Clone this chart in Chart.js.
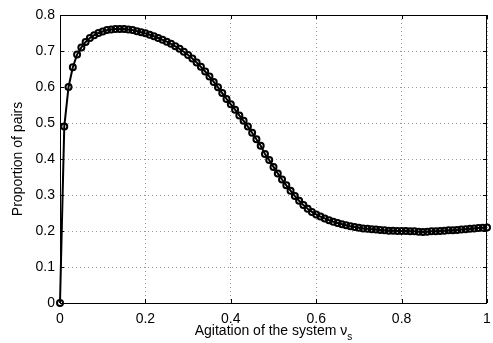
<!DOCTYPE html>
<html>
<head>
<meta charset="utf-8">
<script src="https://cdn.jsdelivr.net/npm/chart.js@4/dist/chart.umd.min.js"></script>
<style>
  html, body { margin: 0; padding: 0; background: #fff; }
  #wrap { width: 493px; height: 343px; }
</style>
</head>
<body>
<div id="wrap"><canvas id="pairsChart"></canvas></div>
<script>
// agitation values, step 0.01 from 0 to 1
const agitation = [];
for (let i = 0; i <= 100; i++) agitation.push(i / 100);

// proportion of pairs
const proportion = [
    0.000, 0.490, 0.600, 0.655, 0.690, 0.710, 0.725, 0.736, 0.744, 0.750,
    0.754, 0.758, 0.760, 0.761, 0.761, 0.761, 0.760, 0.758, 0.755, 0.752,
    0.749, 0.745, 0.741, 0.736, 0.731, 0.726, 0.720, 0.713, 0.706, 0.698,
    0.689, 0.679, 0.668, 0.656, 0.643, 0.629, 0.614, 0.599, 0.583, 0.567,
    0.552, 0.537, 0.521, 0.506, 0.490, 0.473, 0.455, 0.437, 0.414, 0.397,
    0.378, 0.360, 0.343, 0.327, 0.312, 0.297, 0.284, 0.272, 0.262, 0.253,
    0.246, 0.240, 0.235, 0.230, 0.226, 0.222, 0.219, 0.216, 0.213, 0.211,
    0.209, 0.207, 0.206, 0.205, 0.204, 0.203, 0.202, 0.201, 0.201, 0.200,
    0.200, 0.200, 0.199, 0.199, 0.198, 0.197, 0.198, 0.199, 0.199, 0.200,
    0.201, 0.202, 0.202, 0.203, 0.204, 0.205, 0.206, 0.207, 0.208, 0.209,
    0.210
];

const xTicks = [0, 0.2, 0.4, 0.6, 0.8, 1];
const yTicks = [0, 0.1, 0.2, 0.3, 0.4, 0.5, 0.6, 0.7, 0.8];

const FONT = '"Liberation Sans", Arial, sans-serif';

// box, inward ticks and axis titles drawn like the matlab figure
const frame = {
    id: 'frame',
    afterDraw(chart) {
        const { ctx, chartArea: a, scales } = chart;
        ctx.save();
        ctx.strokeStyle = '#000';
        ctx.lineWidth = 1;
        ctx.strokeRect(a.left + 0.5, a.top + 0.5, a.right - a.left - 1, a.bottom - a.top);
        ctx.beginPath();
        xTicks.forEach(v => {
            const x = Math.round(scales.x.getPixelForValue(v)) + 0.5;
            ctx.moveTo(x, a.bottom); ctx.lineTo(x, a.bottom - 4);
            ctx.moveTo(x, a.top); ctx.lineTo(x, a.top + 4);
        });
        yTicks.forEach(v => {
            const y = Math.round(scales.y.getPixelForValue(v)) + 0.5;
            ctx.moveTo(a.left, y); ctx.lineTo(a.left + 4, y);
            ctx.moveTo(a.right, y); ctx.lineTo(a.right - 4, y);
        });
        ctx.stroke();

        ctx.fillStyle = '#000';
        ctx.font = '14px ' + FONT;
        ctx.textBaseline = 'middle';
        const main = 'Agitation of the system ν';
        const wMain = ctx.measureText(main).width;
        ctx.font = '10px ' + FONT;
        const wSub = ctx.measureText('s').width;
        const cx = (a.left + a.right) / 2;
        const x0 = cx - (wMain + wSub) / 2;
        ctx.font = '14px ' + FONT;
        ctx.textAlign = 'left';
        ctx.fillText(main, x0, 331);
        ctx.font = '10px ' + FONT;
        ctx.fillText('s', x0 + wMain, 337);

        ctx.translate(18, (a.top + a.bottom) / 2);
        ctx.rotate(-Math.PI / 2);
        ctx.font = '14px ' + FONT;
        ctx.textAlign = 'center';
        ctx.fillText('Proportion of pairs', 0, 0);
        ctx.restore();
    }
};

new Chart(document.getElementById('pairsChart'), {
    type: 'scatter',
    data: {
        datasets: [{
            data: agitation.map((x, i) => ({ x: x, y: proportion[i] })),
            showLine: true,
            borderColor: '#000',
            borderWidth: 2,
            pointRadius: 3,
            pointBorderWidth: 2,
            pointBorderColor: '#000',
            pointBackgroundColor: 'rgba(255,255,255,0)',
            tension: 0,
            clip: false
        }]
    },
    options: {
        responsive: true,
        maintainAspectRatio: false,
        animation: false,
        events: [],
        layout: { padding: { top: 15, right: 2, left: 0, bottom: 0 } },
        plugins: { legend: { display: false }, tooltip: { enabled: false } },
        scales: {
            x: {
                type: 'linear', min: 0, max: 1,
                afterBuildTicks: s => { s.ticks = xTicks.map(v => ({ value: v })); },
                afterFit: s => { s.height = 40; s.paddingLeft = 0; s.paddingRight = 0; },
                grid: { color: '#999', drawTicks: false, lineWidth: 1 },
                border: { display: false, dash: [1, 3] },
                ticks: {
                    padding: 8, color: '#000',
                    font: { family: FONT, size: 14 },
                    callback: v => String(v)
                }
            },
            y: {
                min: 0, max: 0.8,
                afterBuildTicks: s => { s.ticks = yTicks.map(v => ({ value: v })); },
                afterFit: s => { s.width = 60; s.paddingTop = 0; s.paddingBottom = 0; },
                grid: { color: '#999', drawTicks: false, lineWidth: 1 },
                border: { display: false, dash: [1, 3] },
                ticks: {
                    padding: 5, color: '#000',
                    font: { family: FONT, size: 14 },
                    callback: v => String(Math.round(v * 10) / 10)
                }
            }
        }
    },
    plugins: [frame]
});
</script>
</body>
</html>
